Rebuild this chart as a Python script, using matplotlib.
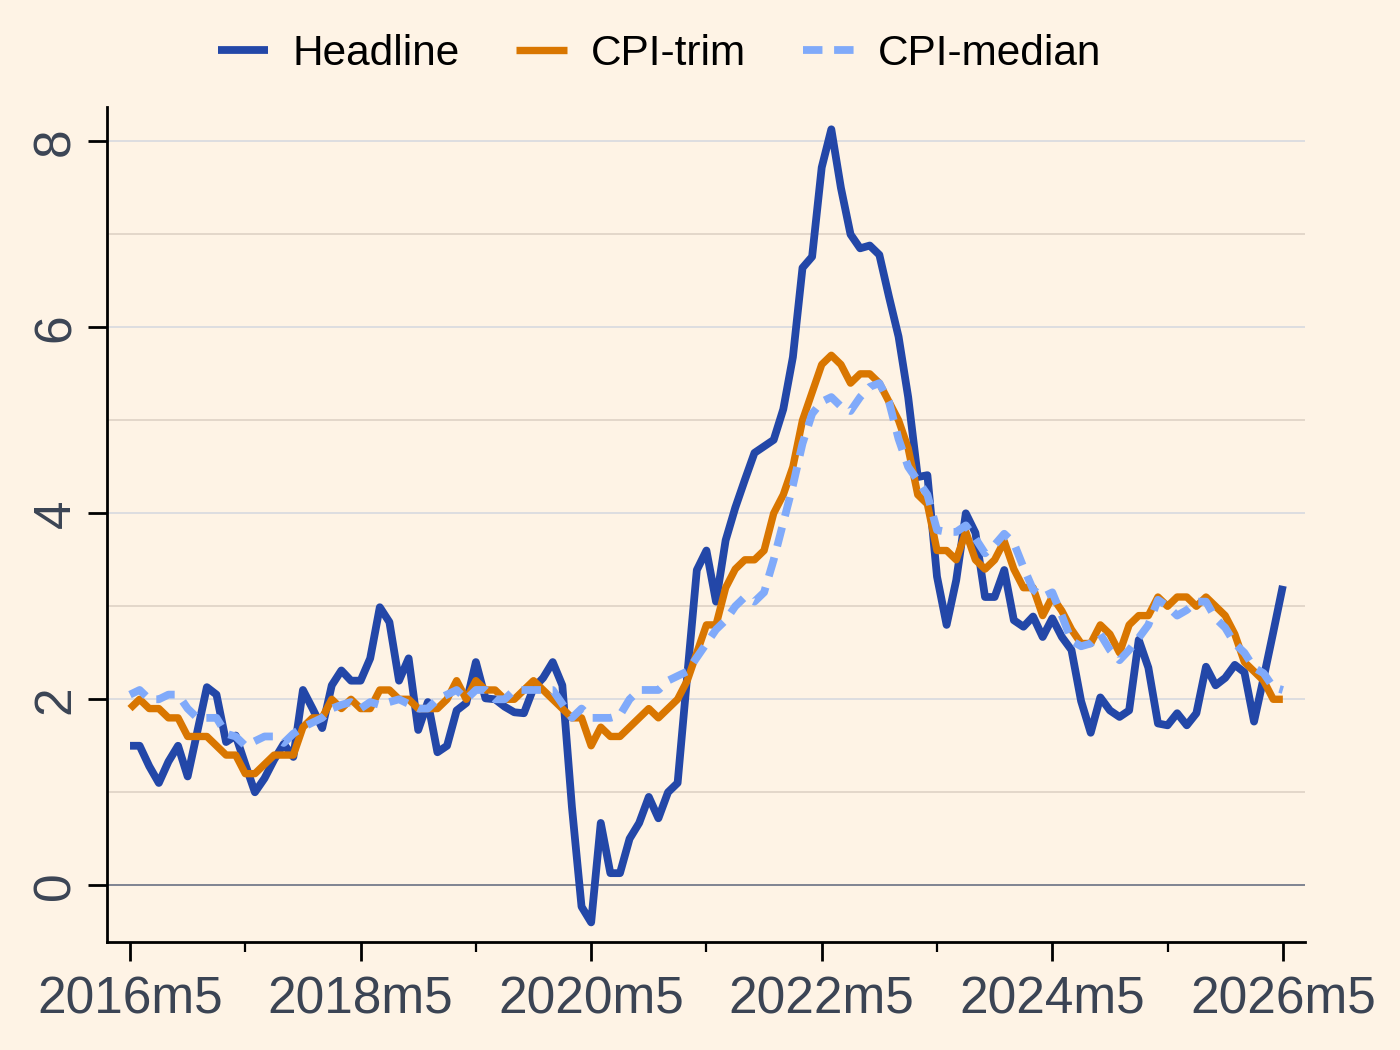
import numpy as np
import matplotlib
matplotlib.use("Agg")
import matplotlib.pyplot as plt

plt.rcParams['font.family'] = ['Liberation Sans', 'DejaVu Sans']

# monthly series, 2016m5 .. 2026m5
headline = [1.5, 1.5, 1.28, 1.1, 1.33, 1.5, 1.17, 1.65, 2.13, 2.05,
            1.54, 1.61, 1.3, 1.0, 1.15, 1.35, 1.52, 1.38, 2.1, 1.9,
            1.69, 2.15, 2.31, 2.2, 2.2, 2.44, 2.99, 2.83, 2.2, 2.44,
            1.67, 1.97, 1.43, 1.5, 1.88, 1.96, 2.4, 2.01, 2.0, 1.92,
            1.86, 1.85, 2.12, 2.23, 2.4, 2.15, 0.84, -0.23, -0.4, 0.67,
            0.13, 0.13, 0.5, 0.67, 0.95, 0.72, 1.0, 1.1, 2.25, 3.39,
            3.6, 3.05, 3.71, 4.06, 4.36, 4.65, 4.72, 4.79, 5.12, 5.68,
            6.64, 6.76, 7.72, 8.13, 7.5, 7.0, 6.85, 6.88, 6.78, 6.33,
            5.9, 5.25, 4.39, 4.41, 3.32, 2.8, 3.28, 4.0, 3.79, 3.1,
            3.1, 3.39, 2.85, 2.78, 2.89, 2.67, 2.87, 2.67, 2.53, 1.98,
            1.64, 2.02, 1.88, 1.81, 1.88, 2.64, 2.34, 1.74, 1.72, 1.85,
            1.72, 1.85, 2.35, 2.15, 2.23, 2.37, 2.29, 1.76, 2.23, 2.72,
            3.22]

cpi_trim = [1.9, 2.0, 1.9, 1.9, 1.8, 1.8, 1.6, 1.6, 1.6, 1.5,
            1.4, 1.4, 1.2, 1.2, 1.3, 1.4, 1.4, 1.4, 1.7, 1.8,
            1.8, 2.0, 1.9, 2.0, 1.9, 1.9, 2.1, 2.1, 2.0, 2.0,
            1.9, 1.9, 1.9, 2.0, 2.2, 2.0, 2.2, 2.1, 2.1, 2.0,
            2.0, 2.1, 2.2, 2.1, 2.0, 1.9, 1.8, 1.8, 1.5, 1.7,
            1.6, 1.6, 1.7, 1.8, 1.9, 1.8, 1.9, 2.0, 2.2, 2.5,
            2.8, 2.8, 3.2, 3.4, 3.5, 3.5, 3.6, 4.0, 4.2, 4.5,
            5.0, 5.3, 5.6, 5.7, 5.6, 5.4, 5.5, 5.5, 5.4, 5.2,
            5.0, 4.7, 4.2, 4.1, 3.6, 3.6, 3.5, 3.8, 3.5, 3.4,
            3.5, 3.7, 3.4, 3.2, 3.2, 2.9, 3.1, 2.95, 2.75, 2.6,
            2.6, 2.8, 2.7, 2.5, 2.8, 2.9, 2.9, 3.1, 3.0, 3.1,
            3.1, 3.0, 3.1, 3.0, 2.9, 2.7, 2.4, 2.3, 2.2, 2.0,
            2.0]

cpi_median = [2.05, 2.1, 2.0, 2.0, 2.05, 2.05, 1.9, 1.8, 1.8, 1.8,
              1.63, 1.6, 1.5, 1.55, 1.6, 1.6, 1.53, 1.63, 1.7, 1.75,
              1.8, 1.9, 1.94, 1.97, 1.9, 1.97, 1.94, 1.97, 2.0, 1.95,
              1.9, 1.9, 2.0, 2.05, 2.1, 2.0, 2.1, 2.1, 2.0, 2.0,
              2.1, 2.1, 2.1, 2.1, 2.1, 1.95, 1.8, 1.9, 1.8, 1.8,
              1.8, 1.83, 2.0, 2.1, 2.1, 2.1, 2.2, 2.25, 2.3, 2.45,
              2.6, 2.75, 2.85, 3.0, 3.1, 3.05, 3.15, 3.5, 3.9, 4.3,
              4.75, 5.07, 5.2, 5.25, 5.15, 5.1, 5.25, 5.36, 5.4, 5.2,
              4.8, 4.5, 4.35, 4.2, 3.82, 3.8, 3.8, 3.87, 3.73, 3.57,
              3.66, 3.78, 3.68, 3.42, 3.18, 3.1, 3.15, 2.9, 2.63, 2.57,
              2.6, 2.7, 2.53, 2.42, 2.53, 2.66, 2.8, 3.07, 3.0, 2.9,
              2.96, 3.05, 3.05, 2.87, 2.77, 2.6, 2.5, 2.34, 2.28, 2.13,
              2.1]

tick_labels = ["2016m5", "2018m5", "2020m5", "2022m5", "2024m5", "2026m5"]
y_ticks = [0, 2, 4, 6, 8]

bg = '#FEF3E5'
label_col = '#3b4454'

months = np.arange(len(headline))

fig = plt.figure(figsize=(14, 10.5), dpi=100, facecolor=bg)
ax = fig.add_axes([0.0764, 0.1029, 0.8557, 0.7952], facecolor=bg)

# grid: even values blue-grey, odd values tan
for v in range(1, 9):
    c = '#d3d7df' if v % 2 == 0 else '#dccfc2'
    ax.axhline(v, color=c, lw=1.1, zorder=0)
ax.axhline(0, color='#7f8391', lw=1.4, zorder=0)

ax.plot(months, headline, color='#2347A8', lw=5.6, solid_joinstyle='round',
        solid_capstyle='butt', label='Headline', zorder=3)
ax.plot(months, cpi_trim, color='#D97600', lw=5.3, solid_joinstyle='round',
        solid_capstyle='butt', label='CPI-trim', zorder=3)
ax.plot(months, cpi_median, color='#80AAFA', lw=5.6, dashes=(2.5, 1.5),
        dash_capstyle='butt', label='CPI-median', zorder=3)

ax.set_xlim(-2.4, 122.3)
ax.set_ylim(-0.61, 8.37)

ax.set_xticks(np.arange(0, 121, 24))
ax.set_xticklabels(tick_labels)
ax.set_xticks(np.arange(12, 121, 24), minor=True)
ax.set_yticks(y_ticks)
ax.set_yticklabels([str(v) for v in y_ticks], rotation=90, va='center')

ax.tick_params(axis='x', which='major', length=14, width=2, pad=10,
               labelsize=37, labelcolor=label_col)
ax.tick_params(axis='x', which='minor', length=7, width=1.6)
ax.tick_params(axis='y', which='major', length=14, width=2, pad=5,
               labelsize=37, labelcolor=label_col)

for s in ['top', 'right']:
    ax.spines[s].set_visible(False)
for s in ['left', 'bottom']:
    ax.spines[s].set_linewidth(2)

fig.legend(loc='center', bbox_to_anchor=(0.471, 0.949), ncol=3, frameon=False,
           fontsize=30.5, handlelength=1.2, handletextpad=0.56, columnspacing=1.35)

plt.savefig("out.png", dpi=100, facecolor=bg)
